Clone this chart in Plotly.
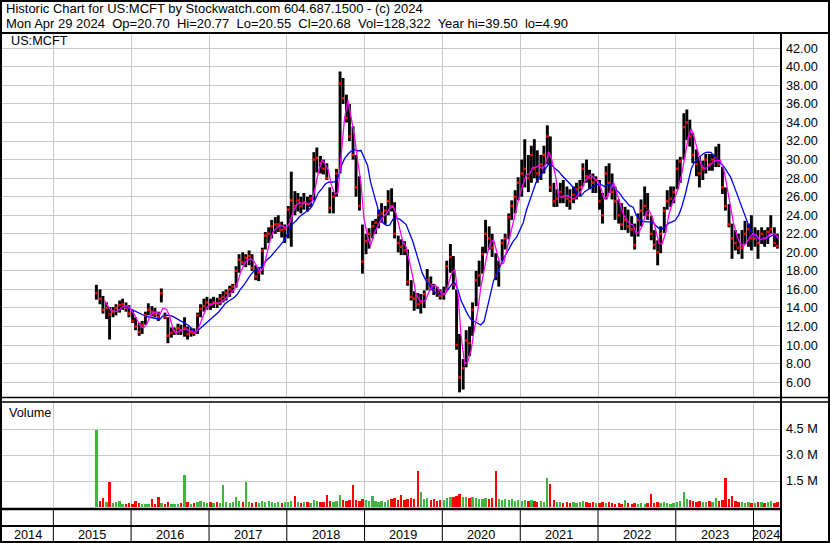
import plotly.graph_objects as go
import pandas as pd

# semi-monthly periods (1st and 15th) from the IPO to the last bar
periods = pd.date_range("2015-07-15", "2024-04-15", freq="SMS")

# period high / low / close
hi = [
    # 2015
    16.5, 16.0, 15.3, 14.6, 14.1, 14.1, 14.4, 14.8, 15.0, 14.6, 14.3,
    # 2016
    13.8, 13.0, 12.4, 12.6, 13.6, 14.5, 14.2, 14.0, 13.6, 16.1, 13.5, 13.0,
    11.9, 11.9, 12.3, 12.2, 13.0, 12.0, 11.9, 11.8, 13.5, 14.4, 15.0, 15.2,
    # 2017
    15.0, 15.2, 15.1, 15.5, 15.8, 16.0, 16.4, 16.6, 18.5, 19.8, 20.0, 19.8,
    20.2, 19.8, 18.6, 18.4, 20.5, 22.2, 22.7, 23.5, 23.8, 24.0, 23.3, 23.0,
    # 2018
    25.0, 28.7, 26.6, 26.4, 26.0, 26.4, 26.0, 26.2, 30.8, 31.3, 30.4, 30.0,
    29.6, 27.0, 26.5, 29.0, 39.5, 38.8, 37.0, 36.0, 33.6, 30.5, 28.2, 23.0,
    # 2019
    22.0, 22.6, 23.4, 23.6, 24.6, 25.3, 25.0, 26.7, 26.9, 25.4, 21.8, 21.4,
    21.2, 20.3, 17.0, 15.8, 15.6, 15.5, 15.9, 18.2, 17.4, 16.6, 16.3, 16.0,
    # 2020
    16.3, 19.1, 20.9, 19.6, 16.0, 11.2, 8.5, 11.6, 12.0, 14.6, 18.0, 19.1,
    20.6, 23.5, 22.8, 22.0, 19.9, 19.1, 21.4, 22.0, 24.2, 25.6, 26.7, 28.1,
    # 2021
    30.0, 32.2, 30.5, 31.5, 32.2, 31.0, 30.5, 31.5, 33.7, 32.5, 27.5, 26.8,
    27.5, 27.8, 27.1, 26.8, 27.1, 27.5, 27.8, 29.6, 30.0, 28.9, 28.5, 28.2,
    # 2022
    27.8, 26.4, 29.3, 29.6, 28.5, 27.1, 25.7, 25.3, 24.9, 24.6, 23.9, 23.1,
    24.2, 25.7, 27.1, 26.4, 23.9, 22.4, 21.3, 22.8, 24.9, 26.7, 27.1, 27.1,
    # 2023
    30.0, 30.3, 35.0, 35.4, 34.3, 32.9, 31.1, 30.3, 29.9, 30.6, 30.6, 30.6,
    31.4, 31.7, 29.2, 27.0, 25.2, 23.1, 22.4, 22.0, 22.4, 23.4, 23.1, 24.0,
    # 2024
    22.7, 22.4, 22.7, 22.4, 22.7, 24.0, 22.7, 22.0,
]
lo = [
    14.9, 14.4, 13.4, 12.8, 10.6, 13.0, 13.2, 13.5, 13.8, 13.6, 13.0,
    12.4, 11.6, 11.0, 11.2, 12.2, 13.2, 13.1, 13.0, 12.6, 14.6, 12.8, 10.2,
    10.8, 11.1, 11.1, 11.1, 10.9, 10.6, 10.9, 11.0, 11.2, 13.0, 13.6, 13.8,
    13.8, 14.0, 14.0, 14.3, 14.6, 14.8, 15.2, 15.6, 16.2, 17.8, 18.6, 18.4,
    18.6, 18.0, 17.0, 16.9, 17.6, 20.3, 21.0, 21.5, 22.0, 22.2, 21.6, 21.0,
    21.5, 20.6, 24.0, 24.4, 24.2, 24.6, 24.4, 24.9, 25.6, 28.6, 28.5, 28.4,
    27.8, 24.2, 24.2, 26.0, 28.5, 36.0, 34.0, 32.0, 30.0, 26.0, 24.5, 17.7,
    19.8, 20.4, 21.5, 22.0, 22.6, 23.2, 23.0, 24.0, 24.4, 21.5, 20.0, 19.7,
    19.7, 16.4, 14.8, 13.7, 13.9, 13.4, 14.0, 15.9, 15.9, 15.4, 15.2, 14.9,
    14.9, 15.9, 17.8, 16.0, 9.5, 4.9, 5.2, 7.6, 8.8, 11.0, 14.2, 16.3,
    17.7, 19.9, 20.3, 19.5, 17.0, 16.3, 19.1, 20.3, 21.4, 23.5, 24.2, 25.6,
    26.0, 27.0, 26.5, 27.5, 28.0, 27.5, 27.8, 28.5, 29.5, 26.5, 24.9, 24.9,
    25.3, 25.3, 24.9, 24.6, 25.3, 25.7, 26.0, 27.1, 27.5, 26.8, 26.4, 26.4,
    24.6, 23.1, 25.7, 26.4, 25.7, 23.5, 23.1, 22.4, 22.4, 22.1, 21.7, 20.3,
    21.7, 22.8, 23.9, 23.5, 21.3, 20.3, 18.6, 19.9, 22.1, 24.6, 24.9, 25.3,
    26.8, 27.5, 30.0, 32.1, 31.4, 29.6, 28.2, 27.0, 27.8, 28.5, 28.8, 28.8,
    29.2, 29.2, 26.3, 24.5, 22.7, 19.3, 20.2, 19.8, 19.3, 20.9, 20.6, 20.2,
    20.6, 19.3, 20.9, 20.6, 20.9, 22.0, 20.6, 20.4,
]
cl = [
    15.6, 15.0, 13.8, 14.0, 13.3, 13.6, 14.0, 14.3, 14.4, 14.0, 13.4,
    12.6, 12.0, 11.4, 12.2, 13.2, 13.8, 13.6, 13.3, 13.0, 15.6, 13.0, 11.0,
    11.3, 11.5, 11.8, 11.6, 11.8, 11.2, 11.4, 11.3, 13.2, 13.9, 14.2, 14.6,
    14.4, 14.6, 14.5, 15.0, 15.2, 15.6, 16.0, 16.3, 18.0, 19.2, 18.9, 19.4,
    19.6, 18.3, 17.4, 17.8, 20.2, 21.8, 22.0, 22.8, 23.0, 23.0, 22.4, 22.5,
    24.6, 25.6, 25.0, 25.6, 25.0, 25.4, 25.2, 25.8, 30.0, 30.2, 29.6, 29.0,
    28.0, 24.8, 26.0, 28.5, 38.2, 36.6, 34.5, 32.5, 30.5, 27.0, 25.0, 19.0,
    21.2, 22.0, 22.8, 23.2, 24.0, 24.2, 24.5, 25.5, 25.0, 22.0, 21.0, 20.6,
    20.2, 16.8, 15.2, 15.0, 14.4, 14.6, 15.5, 17.0, 16.5, 15.9, 15.6, 15.3,
    15.5, 18.5, 19.5, 16.5, 10.0, 6.5, 7.5, 10.5, 10.2, 13.8, 17.0, 17.5,
    19.8, 22.0, 21.5, 20.5, 17.5, 18.0, 21.0, 21.5, 23.8, 25.0, 26.0, 27.5,
    28.5, 29.0, 28.0, 30.5, 29.0, 28.5, 29.5, 30.5, 32.5, 27.0, 25.5, 25.8,
    26.5, 26.0, 25.8, 25.5, 26.2, 26.8, 27.0, 29.0, 28.2, 28.0, 27.5, 27.8,
    25.5, 24.0, 28.5, 27.5, 26.5, 25.5, 24.0, 23.0, 23.5, 22.8, 22.5, 20.8,
    23.5, 24.5, 25.0, 24.0, 22.0, 20.8, 20.0, 22.0, 24.5, 25.5, 25.8, 26.5,
    29.0, 29.8, 33.5, 34.0, 32.5, 30.5, 29.5, 28.5, 29.0, 30.0, 29.5, 30.0,
    30.2, 29.5, 27.0, 25.0, 23.0, 21.5, 21.0, 20.5, 20.5, 22.0, 22.5, 21.5,
    21.5, 21.0, 22.0, 21.5, 22.2, 22.5, 21.0, 20.7,
]
# volume, millions of shares
vol = [
    4.45, 0.35, 0.5, 0.3, 1.46, 0.25, 0.3, 0.35, 0.2, 0.2, 0.25,
    0.2, 0.35, 0.25, 0.2, 0.2, 0.15, 0.45, 0.2, 0.55, 0.25, 0.2, 0.3,
    0.2, 0.15, 0.2, 0.25, 1.85, 0.3, 0.2, 0.25, 0.3, 0.35, 0.3, 0.25,
    0.3, 0.25, 0.3, 0.25, 1.27, 0.3, 0.25, 0.3, 0.6, 0.35, 0.3, 1.46,
    0.3, 0.25, 0.3, 0.25, 0.35, 0.3, 0.35, 0.3, 0.25, 0.3, 0.25, 0.3,
    0.3, 0.35, 0.62, 0.3, 0.25, 0.3, 0.3, 0.25, 0.4, 0.35, 0.3, 0.3,
    0.7, 0.35, 0.3, 0.35, 0.72, 0.4, 0.35, 0.4, 1.27, 0.4, 0.35, 0.45,
    0.4, 0.35, 0.62, 0.35, 0.3, 0.35, 0.3, 0.4, 0.45, 0.5, 0.4, 0.67,
    0.4, 0.45, 0.5, 0.45, 2.08, 0.85, 0.45, 0.5, 0.4, 0.45, 0.35, 0.4,
    0.4, 0.5, 0.55, 0.6, 0.65, 0.75, 0.6, 0.55, 0.5, 0.55, 0.5, 0.45,
    0.45, 0.5, 0.45, 0.5, 2.1, 0.45, 0.4, 0.45, 0.4, 0.45, 0.35, 0.4,
    0.35, 0.4, 0.35, 0.4, 0.35, 0.3, 0.35, 0.3, 1.65, 1.3, 0.4, 0.3,
    0.3, 0.25, 0.3, 0.25, 0.3, 0.25, 0.3, 0.35, 0.3, 0.25, 0.3, 0.25,
    0.25, 0.3, 0.25, 0.3, 0.25, 0.2, 0.25, 0.2, 0.42, 0.25, 0.2, 0.25,
    0.2, 0.25, 0.2, 0.25, 0.75, 0.25, 0.3, 0.25, 0.3, 0.25, 0.2, 0.25,
    0.3, 0.35, 0.88, 0.45, 0.4, 0.35, 0.3, 0.35, 0.3, 0.3, 0.35, 0.3,
    0.5, 0.35, 0.4, 1.7, 0.45, 0.65, 0.35, 0.3, 0.3, 0.25, 0.3, 0.25,
    0.25, 0.3, 0.3, 0.25, 0.3, 0.35, 0.25, 0.3,
]

years = [2014, 2015, 2016, 2017, 2018, 2019, 2020, 2021, 2022, 2023, 2024]
price_ticks = [6, 8, 10, 12, 14, 16, 18, 20, 22, 24, 26, 28, 30, 32, 34, 36, 38, 40, 42]
vol_ticks = [1.5, 3.0, 4.5]

title1 = "Historic Chart for US:MCFT by Stockwatch.com 604.687.1500 - (c) 2024"
title2 = ("Mon Apr 29 2024  Op=20.70  Hi=20.77  Lo=20.55  Cl=20.68  "
          "Vol=128,322  Year hi=39.50  lo=4.90")

W, H = 830, 543
FONT = "Liberation Sans, Arial, sans-serif"
GRID = "#c8c8c8"
X_START, X_END = pd.Timestamp("2014-05-05"), pd.Timestamp("2024-05-09")


def px(x):
    return x / W


def py(y):
    return 1 - y / H


bar_x = periods + pd.Timedelta(days=7)
ma_x = periods + pd.Timedelta(days=14)
close = pd.Series(cl)
ma_short = close.rolling(3).mean()
ma_long = close.rolling(9).mean()

seg_x, seg_y = [], []
for d, h, l in zip(bar_x, hi, lo):
    seg_x += [d, d, None]
    seg_y += [l, h, None]

vol_colors = ["#3cb83c"] + ["#3cb83c" if cl[i] >= cl[i - 1] else "#ff0000"
                            for i in range(1, len(cl))]

fig = go.Figure()

fig.add_trace(go.Scatter(x=seg_x, y=seg_y, mode="lines",
                         line=dict(color="black", width=2.9), hoverinfo="skip"))
fig.add_trace(go.Scatter(x=bar_x, y=cl, mode="markers",
                         marker=dict(color="red", size=2.5, symbol="square"),
                         hoverinfo="skip"))
fig.add_trace(go.Scatter(x=ma_x, y=ma_long, mode="lines",
                         line=dict(color="#0000ff", width=1.3)))
fig.add_trace(go.Scatter(x=ma_x, y=ma_short, mode="lines",
                         line=dict(color="#ff00ff", width=1.3)))

fig.add_trace(go.Bar(x=bar_x, y=vol, marker=dict(color=vol_colors, line_width=0),
                     width=11 * 86400000, xaxis="x2", yaxis="y2"))

year_starts = [pd.Timestamp(f"{y}-01-01") for y in years[1:]]

axis_common = dict(showgrid=True, gridcolor=GRID, gridwidth=1, zeroline=False,
                   showline=False, ticks="")

fig.update_layout(
    width=W, height=H,
    margin=dict(l=0, r=0, t=0, b=0),
    paper_bgcolor="white", plot_bgcolor="white",
    showlegend=False,
    bargap=0,
    font=dict(family=FONT, size=13, color="black"),
    xaxis=dict(type="date", range=[X_START, X_END], domain=[px(2), px(781)],
               anchor="y", tickvals=year_starts, showticklabels=False, **axis_common),
    yaxis=dict(range=[4.4, 43.65], domain=[py(397), py(33)], side="right",
               tickvals=price_ticks, ticktext=[f"{v:.2f}" for v in price_ticks],
               tickfont=dict(size=12.7, family=FONT, color="black"),
               ticklabelstandoff=4, **axis_common),
    xaxis2=dict(type="date", matches="x", range=[X_START, X_END],
                domain=[px(2), px(781)], anchor="y2", tickvals=year_starts,
                showticklabels=False, **axis_common),
    yaxis2=dict(range=[0, 6.06], domain=[py(507), py(402)], side="right",
                tickvals=vol_ticks, ticktext=[f"{v:.1f} M" for v in vol_ticks],
                tickfont=dict(size=12.7, family=FONT, color="black"),
                ticklabelstandoff=4, **axis_common),
)

line = dict(color="black", width=2)
shapes = [
    dict(type="rect", xref="paper", yref="paper", x0=px(1), x1=px(829),
         y0=py(542), y1=py(1), line=line),
    dict(type="line", xref="paper", yref="paper", x0=0, x1=1,
         y0=py(33), y1=py(33), line=line),
    dict(type="line", xref="paper", yref="paper", x0=px(781), x1=px(781),
         y0=py(33), y1=py(543), line=line),
    dict(type="line", xref="paper", yref="paper", x0=0, x1=1,
         y0=py(397.5), y1=py(397.5), line=dict(color="black", width=1.5)),
    dict(type="line", xref="paper", yref="paper", x0=0, x1=1,
         y0=py(402), y1=py(402), line=dict(color="black", width=1.5)),
    dict(type="line", xref="paper", yref="paper", x0=0, x1=px(781),
         y0=py(509), y1=py(509), line=dict(color="black", width=2.5)),
    dict(type="line", xref="paper", yref="paper", x0=0, x1=px(781),
         y0=py(526), y1=py(526), line=line),
]
for d in year_starts:
    shapes.append(dict(type="line", xref="x", yref="paper", x0=d, x1=d,
                       y0=py(542), y1=py(509), line=dict(color="black", width=1)))
fig.update_layout(shapes=shapes)

annotations = [
    dict(text=title1, x=px(4), y=py(8.5)),
    dict(text=title2, x=px(4), y=py(23.5)),
    dict(text="US:MCFT", x=px(9), y=py(41), font=dict(size=12.7)),
    dict(text="Volume", x=px(7), y=py(413), font=dict(size=12.7)),
]
# year labels centred in each visible year span
for y in years:
    a = max(pd.Timestamp(f"{y}-01-01"), X_START)
    b = min(pd.Timestamp(f"{y + 1}-01-01"), X_END - pd.Timedelta(days=8))
    annotations.append(dict(text=str(y), x=a + (b - a) / 2, xref="x", y=py(535),
                            xanchor="center", font=dict(size=12.7)))
for ann in annotations:
    ann.setdefault("xref", "paper")
    ann.setdefault("xanchor", "left")
    ann.update(yref="paper", yanchor="middle", showarrow=False)
fig.update_layout(annotations=annotations)

# page body margin would offset the fixed-size figure
fig.write_html("out.html", config={"displayModeBar": False},
               post_script="document.body.style.margin='0';")
